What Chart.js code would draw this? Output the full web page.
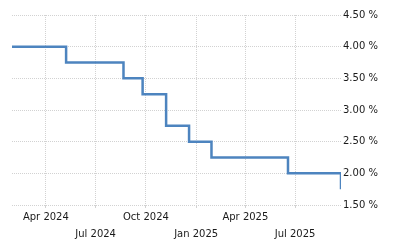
<!DOCTYPE html>
<html>
<head>
<meta charset="utf-8">
<script src="https://cdn.jsdelivr.net/npm/chart.js@4"></script>
<style>
  html, body { margin: 0; padding: 0; background: #fff; }
  #wrap { width: 400px; height: 250px; }
</style>
</head>
<body>
<div id="wrap"><canvas id="myChart"></canvas></div>
<script>
// policy rate steps (date of change, new rate in %)
var changeDates = ['2024-01-30', '2024-05-08', '2024-08-21', '2024-09-25', '2024-11-07',
                   '2024-12-19', '2025-01-29', '2025-06-18', '2025-09-23'];
var rateValues = [4.00, 3.75, 3.50, 3.25, 2.75, 2.50, 2.25, 2.00, 1.75];

// x axis ticks (quarter starts) and their labels, alternating rows
var tickDates = ['2024-04-01', '2024-07-01', '2024-10-01', '2025-01-01', '2025-04-01', '2025-07-01'];
var tickLabels = ['Apr 2024', 'Jul 2024', 'Oct 2024', 'Jan 2025', 'Apr 2025', 'Jul 2025'];

// y axis ticks
var yMin = 1.5, yMax = 4.5, yStep = 0.5;

function toTime(s) {
  var p = s.split('-');
  return Date.UTC(+p[0], +p[1] - 1, +p[2]);
}

var points = changeDates.map(function (d, i) {
  return { x: toTime(d), y: rateValues[i] };
});
var tickTimes = tickDates.map(toTime);

var gridColor = '#d2d2d2';

function chart() {
  const ctx = document.getElementById('myChart');

  new Chart(ctx, {
    type: 'line',
    data: {
      datasets: [{
        data: points,
        borderColor: '#4d84bf',
        borderWidth: 2.5,
        stepped: true,
        pointRadius: 0,
        fill: false
      }]
    },
    options: {
      responsive: true,
      maintainAspectRatio: false,
      animation: false,
      layout: { padding: { left: 12, top: 15, right: 0, bottom: 0 } },
      plugins: { legend: { display: false }, tooltip: { enabled: false } },
      scales: {
        x: {
          type: 'linear',
          min: points[0].x,
          max: points[points.length - 1].x,
          border: { display: false, dash: [1, 1] },
          grid: { color: gridColor, drawTicks: true, tickLength: 3 },
          afterBuildTicks: function (scale) {
            scale.ticks = tickTimes.map(function (t) { return { value: t }; });
          },
          afterFit: function (scale) { scale.height = 45; },
          ticks: {
            autoSkip: false,
            maxRotation: 0,
            padding: 1,
            color: '#1a1a1a',
            font: { family: 'DejaVu Sans', size: 10, lineHeight: 1.7 },
            callback: function (value) {
              var i = tickTimes.indexOf(value);
              if (i < 0) return '';
              return i % 2 === 0 ? [tickLabels[i]] : ['', tickLabels[i]];
            }
          }
        },
        y: {
          position: 'right',
          min: yMin,
          max: yMax,
          border: { display: false, dash: [1, 1] },
          grid: { color: gridColor, drawTicks: false },
          afterFit: function (scale) { scale.width = 59; },
          ticks: {
            stepSize: yStep,
            padding: 2,
            color: '#1a1a1a',
            font: { family: 'DejaVu Sans', size: 10 },
            callback: function (v) { return v.toFixed(2) + ' %'; }
          }
        }
      }
    }
  });
}

chart();
</script>
</body>
</html>
